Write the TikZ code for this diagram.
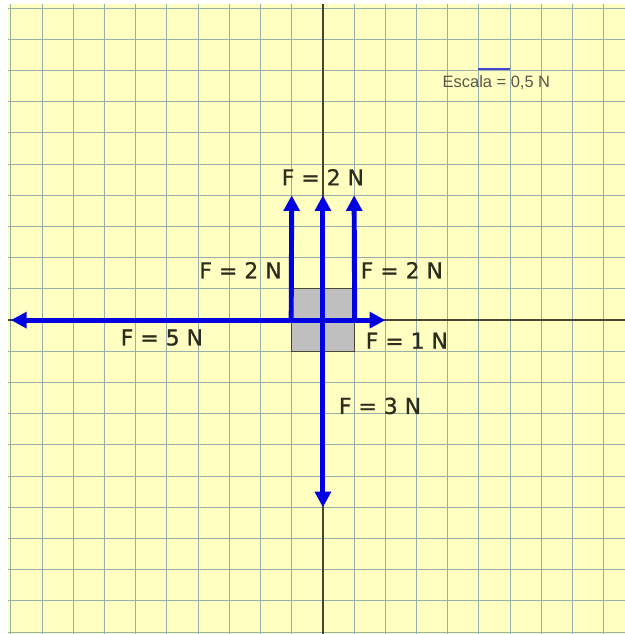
\documentclass[tikz,border=0pt]{standalone}
\usepackage{fontspec}
\setmainfont{DejaVu Sans}[FakeBold=0.6]
\newfontfamily\rotulofont{DejaVu Sans}[FakeBold=0.9]
\newfontfamily\escalafont{Liberation Sans}
\usetikzlibrary{arrows.meta}
\definecolor{papel}{RGB}{255,255,194}
\definecolor{grade}{RGB}{150,175,170}
\definecolor{eixo}{RGB}{70,70,50}
\definecolor{forca}{RGB}{0,0,225}
\definecolor{texto}{RGB}{45,45,30}
\definecolor{barra}{RGB}{70,70,210}
\tikzset{vetor/.style={draw=forca, line width=4.5pt, -{Triangle[length=5mm, width=5mm]}}}
\tikzset{rotulo/.style={text=texto, inner sep=0pt, font=\rotulofont\fontsize{20}{24}\selectfont}}

\begin{document}
\begin{tikzpicture}
\useasboundingbox (-10.35,-10.06) rectangle (9.68,10.26);
% papel quadriculado
\fill[papel] (-10.1,-10.06) rectangle (9.68,10.14);
\foreach \x in {-10,...,9} \draw[grade, line width=0.8pt] (\x,-10.06) -- (\x,10.14);
\foreach \y in {-10,...,10} \draw[grade, line width=0.8pt] (-10.1,\y) -- (9.68,\y);
% eixos
\draw[eixo, line width=1.3pt] (-10.1,0) -- (9.68,0);
\draw[eixo, line width=1.3pt] (0,-10.06) -- (0,10.14);
% corpo
\node[draw=eixo, fill=black!25, line width=1pt, minimum size=2cm, inner sep=0pt] (corpo) at (0,0) {};
% pontas das forcas (0,5 N por quadrado)
\coordinate (p5) at (-10,0);
\coordinate (p1) at (2,0);
\coordinate (p3) at (0,-6);
\coordinate (pe) at (-1,4);
\coordinate (pc) at (0,4);
\coordinate (pd) at (1,4);
\draw[vetor] (corpo.center) -- (p5);
\draw[vetor] (corpo.center) -- (p1);
\draw[vetor] (corpo.center) -- (p3);
\draw[vetor] (corpo.west) -- (pe);
\draw[vetor] (corpo.center) -- (pc);
\draw[vetor] (corpo.east) -- (pd);
% rotulos
\node[rotulo] (fcima) at (0,4.58) {F = 2 N};
\node[rotulo] (fesq) at (-2.64,1.6) {F = 2 N};
\node[rotulo] (fdir) at (2.53,1.6) {F = 2 N};
\node[rotulo] (f5) at (-5.16,-0.56) {F = 5 N};
\node[rotulo] (f1) at (2.69,-0.66) {F = 1 N};
\node[rotulo] (f3) at (1.83,-2.75) {F = 3 N};
% escala
\node[text=texto!80, inner sep=0pt, font=\escalafont\fontsize{15}{18}\selectfont] (escala) at (5.56,7.6) {Escala = 0,5 N};
\coordinate (ea) at (4.97,8.04);
\coordinate (eb) at (6,8.04);
\draw[barra, line width=1.5pt] (ea) -- (eb);
\end{tikzpicture}
\end{document}
